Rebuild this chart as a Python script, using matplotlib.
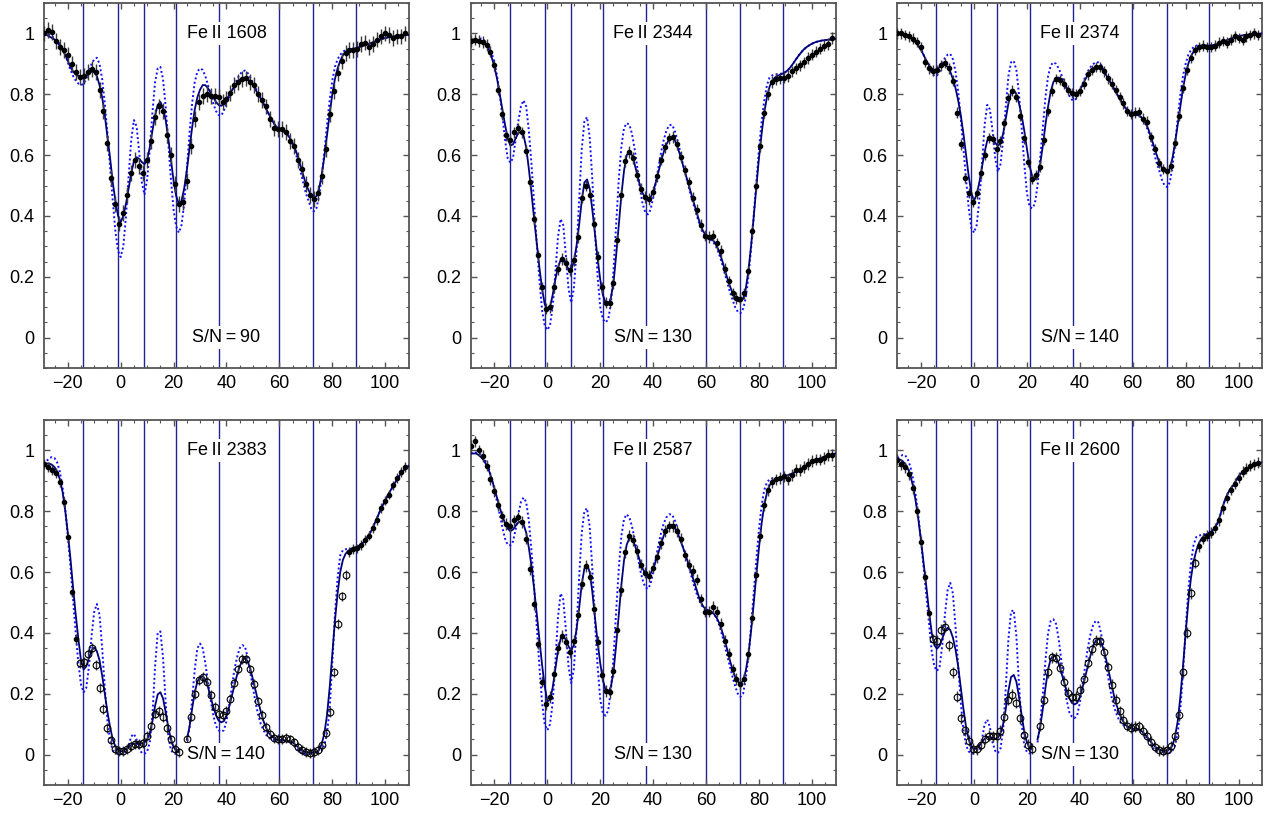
import numpy as np
import matplotlib
matplotlib.use("Agg")
import matplotlib.pyplot as plt
from matplotlib.ticker import MultipleLocator, FuncFormatter

plt.rcParams['font.family'] = ['Liberation Sans', 'DejaVu Sans']

# velocity grids (km/s)
vel_model = np.arange(-29, 110, 1.0)
vel_data = np.arange(-29, 108, 1.5)

# component positions (vertical lines)
comp_vel = [-14.2, -1.0, 8.8, 21.1, 37.3, 59.8, 72.8, 89.0]

lines = ["Fe\u2009II 1608", "Fe\u2009II 2344", "Fe\u2009II 2374",
         "Fe\u2009II 2383", "Fe\u2009II 2587", "Fe\u2009II 2600"]
snr = [90, 130, 140, 140, 130, 130]
err_bar = [0.026, 0.019, 0.017, 0.016, 0.019, 0.018]
# velocity range drawn with open circles (None = all filled)
open_range = [None, None, None, (-16.5, 85.5), None, (-16.5, 84.2)]

nan = np.nan

# ---------------- Fe II 1608 ----------------
flux_1608 = [
    1.0, 1.01, 1.005, 0.975, 0.955, 0.945, 0.93, 0.9, 0.872, 0.858,
    0.86, 0.872, 0.882, 0.872, 0.815, 0.745, 0.64, 0.525, 0.44, 0.375,
    0.41, 0.47, 0.54, 0.585, 0.565, 0.54, 0.585, 0.645, 0.725, 0.76,
    0.745, 0.665, 0.6, 0.505, 0.44, 0.445, 0.515, 0.63, 0.72, 0.775,
    0.795, 0.80, 0.795, 0.795, 0.79, 0.775, 0.785, 0.805, 0.83, 0.84,
    0.85, 0.852, 0.84, 0.83, 0.80, 0.78, 0.76, 0.72, 0.69, 0.685,
    0.685, 0.675, 0.645, 0.63, 0.585, 0.555, 0.505, 0.47, 0.455, 0.475,
    0.53, 0.62, 0.735, 0.81, 0.87, 0.91, 0.935, 0.945, 0.945, 0.95,
    0.965, 0.97, 0.955, 0.965, 0.98, 0.99, 1.0, 0.995, 0.985, 0.99,
    0.99, 1.0]
model_1608 = [
    1.00, 0.995, 0.99, 0.985, 0.98, 0.97, 0.96, 0.945, 0.93, 0.91,
    0.89, 0.875, 0.865, 0.86, 0.855, 0.855, 0.86, 0.868, 0.875, 0.872,
    0.86, 0.83, 0.79, 0.73, 0.66, 0.59, 0.51, 0.45, 0.40, 0.38,
    0.40, 0.44, 0.49, 0.54, 0.58, 0.593, 0.588, 0.577, 0.57, 0.585,
    0.625, 0.68, 0.73, 0.765, 0.775, 0.755, 0.715, 0.655, 0.585, 0.515,
    0.465, 0.44, 0.45, 0.49, 0.55, 0.62, 0.69, 0.75, 0.79, 0.815,
    0.83, 0.83, 0.82, 0.805, 0.79, 0.775, 0.765, 0.762, 0.768, 0.782,
    0.797, 0.812, 0.826, 0.838, 0.848, 0.854, 0.855, 0.85, 0.842, 0.83,
    0.815, 0.80, 0.785, 0.77, 0.752, 0.735, 0.718, 0.703, 0.692, 0.685,
    0.68, 0.675, 0.668, 0.655, 0.64, 0.62, 0.595, 0.565, 0.535, 0.505,
    0.485, 0.468, 0.46, 0.465, 0.49, 0.535, 0.595, 0.665, 0.735, 0.80,
    0.85, 0.885, 0.91, 0.928, 0.94, 0.945, 0.948, 0.95, 0.952, 0.955,
    0.957, 0.96, 0.963, 0.966, 0.97, 0.973, 0.976, 0.979, 0.982, 0.985,
    0.987, 0.989, 0.99, 0.991, 0.992, 0.993, 0.994, 0.995, 0.995]
hires_1608 = [
    1.00, 0.995, 0.995, 0.99, 0.985, 0.975, 0.965, 0.95, 0.93, 0.905,
    0.88, 0.86, 0.845, 0.835, 0.83, 0.835, 0.85, 0.875, 0.90, 0.915,
    0.92, 0.90, 0.85, 0.77, 0.67, 0.56, 0.45, 0.35, 0.285, 0.265,
    0.30, 0.40, 0.53, 0.65, 0.715, 0.695, 0.61, 0.51, 0.47, 0.52,
    0.62, 0.74, 0.84, 0.885, 0.89, 0.85, 0.76, 0.64, 0.52, 0.42,
    0.365, 0.345, 0.37, 0.44, 0.55, 0.67, 0.77, 0.84, 0.875, 0.885,
    0.88, 0.86, 0.83, 0.80, 0.77, 0.745, 0.732, 0.73, 0.745, 0.77,
    0.79, 0.81, 0.83, 0.85, 0.865, 0.875, 0.878, 0.87, 0.855, 0.838,
    0.82, 0.803, 0.787, 0.77, 0.752, 0.735, 0.718, 0.703, 0.692, 0.686,
    0.682, 0.678, 0.67, 0.655, 0.635, 0.61, 0.58, 0.545, 0.51, 0.475,
    0.45, 0.425, 0.415, 0.425, 0.465, 0.53, 0.61, 0.70, 0.78, 0.845,
    0.89, 0.915, 0.93, 0.94, 0.945, 0.947, 0.949, 0.95, 0.952, 0.955,
    0.957, 0.96, 0.963, 0.966, 0.97, 0.973, 0.976, 0.979, 0.982, 0.985,
    0.987, 0.989, 0.99, 0.991, 0.992, 0.993, 0.994, 0.995, 0.995]

# ---------------- Fe II 2344 ----------------
flux_2344 = [
    0.975, 0.98, 0.975, 0.972, 0.962, 0.94, 0.895, 0.815, 0.735, 0.665,
    0.648, 0.675, 0.688, 0.675, 0.615, 0.51, 0.39, 0.27, 0.165, 0.095,
    0.10, 0.165, 0.225, 0.258, 0.245, 0.222, 0.255, 0.33, 0.46, 0.50,
    0.47, 0.375, 0.265, 0.165, 0.115, 0.115, 0.18, 0.32, 0.47, 0.58,
    0.61, 0.59, 0.535, 0.49, 0.462, 0.455, 0.48, 0.53, 0.585, 0.625,
    0.655, 0.66, 0.635, 0.595, 0.55, 0.51, 0.46, 0.42, 0.37, 0.335,
    0.33, 0.335, 0.31, 0.285, 0.225, 0.185, 0.145, 0.13, 0.128, 0.145,
    0.22, 0.35, 0.50, 0.63, 0.74, 0.80, 0.84, 0.85, 0.852, 0.855,
    0.86, 0.875, 0.885, 0.895, 0.905, 0.92, 0.93, 0.94, 0.95, 0.96,
    0.965, 0.985]
model_2344 = [
    0.98, 0.98, 0.98, 0.978, 0.975, 0.97, 0.96, 0.945, 0.92, 0.89,
    0.85, 0.80, 0.75, 0.70, 0.655, 0.632, 0.635, 0.655, 0.672, 0.677,
    0.665, 0.625, 0.555, 0.475, 0.39, 0.31, 0.23, 0.16, 0.11, 0.09,
    0.10, 0.14, 0.19, 0.23, 0.255, 0.255, 0.24, 0.226, 0.222, 0.25,
    0.30, 0.37, 0.45, 0.51, 0.52, 0.49, 0.42, 0.34, 0.26, 0.19,
    0.14, 0.115, 0.11, 0.13, 0.18, 0.27, 0.37, 0.47, 0.55, 0.60,
    0.61, 0.60, 0.57, 0.535, 0.50, 0.475, 0.46, 0.455, 0.46, 0.48,
    0.51, 0.545, 0.58, 0.61, 0.635, 0.652, 0.66, 0.652, 0.632, 0.605,
    0.575, 0.545, 0.515, 0.485, 0.455, 0.425, 0.395, 0.368, 0.348, 0.336,
    0.33, 0.325, 0.316, 0.302, 0.282, 0.256, 0.226, 0.196, 0.17, 0.147,
    0.13, 0.12, 0.118, 0.128, 0.16, 0.22, 0.30, 0.395, 0.495, 0.59,
    0.67, 0.74, 0.79, 0.825, 0.845, 0.855, 0.86, 0.865, 0.868, 0.873,
    0.88, 0.89, 0.902, 0.915, 0.927, 0.938, 0.948, 0.955, 0.961, 0.966,
    0.97, 0.973, 0.975, 0.977, 0.978, 0.979, 0.98, 0.981, 0.982]
hires_2344 = [
    0.98, 0.98, 0.982, 0.984, 0.983, 0.978, 0.97, 0.955, 0.935, 0.905,
    0.86, 0.80, 0.73, 0.65, 0.59, 0.575, 0.59, 0.65, 0.71, 0.76,
    0.78, 0.76, 0.68, 0.57, 0.44, 0.31, 0.19, 0.09, 0.04, 0.025,
    0.04, 0.10, 0.21, 0.33, 0.39, 0.37, 0.27, 0.16, 0.115, 0.16,
    0.28, 0.45, 0.62, 0.71, 0.725, 0.66, 0.52, 0.35, 0.20, 0.10,
    0.06, 0.05, 0.06, 0.11, 0.22, 0.37, 0.52, 0.63, 0.69, 0.705,
    0.70, 0.67, 0.62, 0.56, 0.49, 0.44, 0.412, 0.405, 0.42, 0.46,
    0.51, 0.56, 0.61, 0.65, 0.68, 0.698, 0.70, 0.685, 0.655, 0.62,
    0.58, 0.545, 0.51, 0.475, 0.445, 0.415, 0.386, 0.36, 0.342, 0.33,
    0.325, 0.32, 0.31, 0.295, 0.272, 0.245, 0.213, 0.18, 0.15, 0.125,
    0.10, 0.085, 0.08, 0.095, 0.13, 0.20, 0.29, 0.40, 0.51, 0.62,
    0.71, 0.78, 0.83, 0.855, 0.862, 0.865, 0.866, 0.867, 0.869, 0.873,
    0.88, 0.89, 0.902, 0.915, 0.927, 0.938, 0.948, 0.955, 0.961, 0.966,
    0.97, 0.973, 0.975, 0.977, 0.978, 0.979, 0.98, 0.981, 0.982]

# ---------------- Fe II 2374 ----------------
flux_2374 = [
    1.0, 1.0, 0.995, 0.99, 0.983, 0.972, 0.955, 0.905, 0.885, 0.878,
    0.88, 0.895, 0.902, 0.885, 0.845, 0.74, 0.635, 0.525, 0.475, 0.445,
    0.474, 0.54, 0.6, 0.657, 0.652, 0.62, 0.645, 0.705, 0.787, 0.812,
    0.79, 0.73, 0.655, 0.578, 0.522, 0.535, 0.562, 0.65, 0.745, 0.81,
    0.85, 0.847, 0.835, 0.815, 0.805, 0.80, 0.81, 0.835, 0.865, 0.88,
    0.89, 0.89, 0.875, 0.852, 0.835, 0.815, 0.79, 0.77, 0.745, 0.735,
    0.74, 0.742, 0.72, 0.71, 0.66, 0.62, 0.575, 0.555, 0.548, 0.565,
    0.64, 0.73, 0.82, 0.88, 0.92, 0.945, 0.955, 0.96, 0.955, 0.955,
    0.96, 0.97, 0.975, 0.97, 0.98, 0.99, 0.985, 0.98, 0.99, 0.995,
    1.0, 0.995]
model_2374 = [
    1.0, 0.998, 0.996, 0.993, 0.99, 0.985, 0.978, 0.97, 0.958, 0.945,
    0.928, 0.91, 0.895, 0.885, 0.88, 0.882, 0.89, 0.896, 0.897, 0.89,
    0.875, 0.85, 0.82, 0.78, 0.73, 0.67, 0.60, 0.53, 0.475, 0.45,
    0.47, 0.51, 0.56, 0.61, 0.648, 0.662, 0.655, 0.64, 0.63, 0.64,
    0.67, 0.72, 0.77, 0.805, 0.815, 0.80, 0.77, 0.73, 0.68, 0.62,
    0.565, 0.53, 0.52, 0.53, 0.57, 0.63, 0.70, 0.76, 0.81, 0.84,
    0.853, 0.855, 0.85, 0.837, 0.822, 0.81, 0.802, 0.80, 0.804, 0.814,
    0.83, 0.848, 0.864, 0.876, 0.885, 0.89, 0.891, 0.886, 0.876, 0.862,
    0.847, 0.832, 0.817, 0.802, 0.787, 0.772, 0.758, 0.747, 0.74, 0.736,
    0.734, 0.731, 0.726, 0.717, 0.703, 0.683, 0.657, 0.63, 0.602, 0.577,
    0.558, 0.547, 0.545, 0.555, 0.59, 0.64, 0.70, 0.76, 0.82, 0.865,
    0.90, 0.925, 0.94, 0.95, 0.955, 0.958, 0.96, 0.96, 0.96, 0.961,
    0.963, 0.965, 0.968, 0.971, 0.975, 0.979, 0.983, 0.986, 0.989, 0.991,
    0.993, 0.994, 0.995, 0.996, 0.997, 0.998, 0.998, 0.999, 1.0]
hires_2374 = [
    1.0, 0.998, 0.997, 0.995, 0.992, 0.988, 0.982, 0.974, 0.962, 0.948,
    0.928, 0.905, 0.885, 0.87, 0.86, 0.862, 0.875, 0.90, 0.92, 0.93,
    0.933, 0.915, 0.875, 0.81, 0.72, 0.62, 0.52, 0.425, 0.36, 0.345,
    0.37, 0.45, 0.57, 0.70, 0.765, 0.75, 0.68, 0.59, 0.545, 0.57,
    0.65, 0.76, 0.86, 0.905, 0.91, 0.88, 0.80, 0.69, 0.57, 0.475,
    0.43, 0.425, 0.44, 0.50, 0.59, 0.69, 0.79, 0.86, 0.895, 0.905,
    0.90, 0.885, 0.865, 0.84, 0.815, 0.795, 0.782, 0.78, 0.79, 0.81,
    0.835, 0.856, 0.874, 0.889, 0.899, 0.905, 0.905, 0.897, 0.883, 0.866,
    0.849, 0.833, 0.817, 0.802, 0.787, 0.772, 0.758, 0.747, 0.74, 0.737,
    0.735, 0.732, 0.726, 0.715, 0.698, 0.675, 0.645, 0.61, 0.575, 0.55,
    0.52, 0.50, 0.495, 0.51, 0.56, 0.64, 0.72, 0.80, 0.86, 0.90,
    0.93, 0.945, 0.955, 0.96, 0.96, 0.96, 0.96, 0.96, 0.96, 0.961,
    0.963, 0.965, 0.968, 0.971, 0.975, 0.979, 0.983, 0.986, 0.989, 0.991,
    0.993, 0.994, 0.995, 0.996, 0.997, 0.998, 0.998, 0.999, 1.0]

# ---------------- Fe II 2383 ----------------
flux_2383 = [
    0.955, 0.945, 0.935, 0.925, 0.895, 0.83, 0.715, 0.535, 0.38, 0.30,
    0.305, 0.33, 0.35, 0.295, 0.22, 0.15, 0.088, 0.048, 0.019, 0.012,
    0.012, 0.018, 0.028, 0.034, 0.035, 0.038, 0.06, 0.095, 0.135, 0.143,
    0.123, 0.088, 0.05, 0.02, 0.007, nan, 0.05, 0.125, 0.2, 0.245,
    0.255, 0.24, 0.195, 0.158, 0.135, 0.13, 0.145, 0.183, 0.235, 0.28,
    0.315, 0.315, 0.28, 0.232, 0.175, 0.13, 0.09, 0.068, 0.055, 0.051,
    0.052, 0.055, 0.05, 0.04, 0.025, 0.015, 0.008, 0.006, 0.008, 0.014,
    0.03, 0.07, 0.14, 0.27, 0.43, 0.52, 0.59, 0.665, 0.675, 0.678,
    0.69, 0.705, 0.72, 0.745, 0.77, 0.81, 0.835, 0.855, 0.885, 0.91,
    0.93, 0.945]
model_2383 = [
    0.955, 0.957, 0.957, 0.953, 0.945, 0.93, 0.905, 0.865, 0.805, 0.73,
    0.645, 0.55, 0.46, 0.38, 0.31, 0.28, 0.29, 0.318, 0.343, 0.352,
    0.34, 0.31, 0.26, 0.20, 0.14, 0.09, 0.05, 0.026, 0.015, 0.011,
    0.012, 0.018, 0.025, 0.032, 0.036, 0.038, 0.037, 0.036, 0.04, 0.05,
    0.07, 0.11, 0.16, 0.198, 0.205, 0.185, 0.14, 0.09, 0.05, 0.025,
    0.012, 0.008, nan, nan, 0.05, 0.09, 0.15, 0.205, 0.24, 0.255,
    0.258, 0.247, 0.222, 0.19, 0.157, 0.13, 0.112, 0.106, 0.11, 0.128,
    0.157, 0.192, 0.228, 0.262, 0.29, 0.31, 0.317, 0.307, 0.282, 0.247,
    0.21, 0.174, 0.14, 0.11, 0.087, 0.071, 0.061, 0.054, 0.05, 0.048,
    0.048, 0.047, 0.045, 0.044, 0.04, 0.033, 0.025, 0.017, 0.012, 0.008,
    0.006, 0.006, 0.006, 0.008, 0.015, 0.035, 0.07, 0.13, 0.22, 0.33,
    0.44, 0.53, 0.60, 0.64, 0.66, 0.67, 0.675, 0.68, 0.682, 0.685,
    0.692, 0.70, 0.712, 0.725, 0.74, 0.76, 0.78, 0.80, 0.818, 0.835,
    0.852, 0.868, 0.883, 0.898, 0.912, 0.925, 0.935, 0.943, 0.95]
hires_2383 = [
    0.955, 0.965, 0.975, 0.978, 0.975, 0.96, 0.93, 0.88, 0.81, 0.72,
    0.62, 0.51, 0.40, 0.30, 0.23, 0.205, 0.22, 0.29, 0.39, 0.47,
    0.495, 0.46, 0.35, 0.22, 0.11, 0.045, 0.015, 0.005, 0.002, 0.002,
    0.005, 0.012, 0.03, 0.06, 0.068, 0.05, 0.02, 0.005, 0.003, 0.01,
    0.04, 0.13, 0.29, 0.40, 0.405, 0.32, 0.17, 0.06, 0.015, 0.004,
    0.002, 0.002, nan, nan, 0.03, 0.09, 0.18, 0.28, 0.35, 0.365,
    0.35, 0.30, 0.24, 0.18, 0.13, 0.095, 0.08, 0.075, 0.08, 0.11,
    0.16, 0.22, 0.28, 0.32, 0.35, 0.36, 0.355, 0.32, 0.27, 0.22,
    0.17, 0.13, 0.10, 0.08, 0.065, 0.055, 0.05, 0.048, 0.047, 0.046,
    0.046, 0.045, 0.043, 0.04, 0.033, 0.025, 0.015, 0.008, 0.004, 0.002,
    0.002, 0.002, 0.002, 0.002, 0.005, 0.012, 0.03, 0.07, 0.15, 0.30,
    0.46, 0.58, 0.655, 0.672, 0.675, 0.676, 0.677, 0.68, 0.682, 0.685,
    0.692, 0.70, 0.712, 0.725, 0.74, 0.76, 0.78, 0.80, 0.818, 0.835,
    0.852, 0.868, 0.883, 0.898, 0.912, 0.925, 0.935, 0.943, 0.95]

# ---------------- Fe II 2587 ----------------
flux_2587 = [
    1.015, 1.03, 1.0, 0.982, 0.95, 0.905, 0.867, 0.82, 0.783, 0.758,
    0.752, 0.77, 0.78, 0.765, 0.71, 0.61, 0.496, 0.365, 0.24, 0.167,
    0.19, 0.265, 0.35, 0.39, 0.37, 0.336, 0.375, 0.46, 0.562, 0.62,
    0.585, 0.48, 0.37, 0.262, 0.21, 0.205, 0.275, 0.41, 0.54, 0.665,
    0.72, 0.705, 0.67, 0.625, 0.598, 0.588, 0.615, 0.65, 0.695, 0.735,
    0.75, 0.752, 0.735, 0.71, 0.655, 0.625, 0.605, 0.575, 0.51, 0.47,
    0.47, 0.485, 0.47, 0.43, 0.375, 0.33, 0.28, 0.248, 0.232, 0.25,
    0.33, 0.45, 0.59, 0.72, 0.82, 0.87, 0.895, 0.905, 0.91, 0.915,
    0.905, 0.92, 0.935, 0.935, 0.945, 0.955, 0.965, 0.97, 0.97, 0.975,
    0.985, 0.985]
model_2587 = [
    0.99, 0.99, 0.99, 0.985, 0.977, 0.967, 0.952, 0.932, 0.905, 0.875,
    0.843, 0.812, 0.785, 0.76, 0.743, 0.735, 0.74, 0.752, 0.763, 0.767,
    0.757, 0.73, 0.68, 0.62, 0.545, 0.462, 0.38, 0.295, 0.225, 0.175,
    0.18, 0.22, 0.28, 0.34, 0.38, 0.39, 0.377, 0.356, 0.342, 0.36,
    0.41, 0.48, 0.56, 0.612, 0.625, 0.60, 0.535, 0.45, 0.37, 0.30,
    0.245, 0.212, 0.205, 0.222, 0.272, 0.36, 0.46, 0.56, 0.64, 0.69,
    0.712, 0.71, 0.69, 0.665, 0.637, 0.612, 0.596, 0.59, 0.595, 0.613,
    0.637, 0.664, 0.693, 0.72, 0.74, 0.752, 0.756, 0.748, 0.732, 0.712,
    0.688, 0.663, 0.637, 0.61, 0.582, 0.553, 0.526, 0.502, 0.486, 0.477,
    0.474, 0.47, 0.462, 0.45, 0.432, 0.407, 0.378, 0.345, 0.31, 0.28,
    0.256, 0.24, 0.234, 0.243, 0.275, 0.328, 0.405, 0.495, 0.59, 0.68,
    0.76, 0.82, 0.86, 0.885, 0.898, 0.904, 0.907, 0.91, 0.913, 0.916,
    0.919, 0.922, 0.926, 0.93, 0.935, 0.94, 0.946, 0.952, 0.958, 0.963,
    0.967, 0.971, 0.974, 0.977, 0.98, 0.983, 0.986, 0.988, 0.99]
hires_2587 = [
    0.99, 0.992, 0.993, 0.992, 0.985, 0.975, 0.96, 0.937, 0.905, 0.87,
    0.83, 0.79, 0.747, 0.71, 0.69, 0.688, 0.70, 0.74, 0.79, 0.83,
    0.845, 0.83, 0.77, 0.67, 0.55, 0.42, 0.29, 0.17, 0.10, 0.08,
    0.10, 0.17, 0.30, 0.45, 0.53, 0.51, 0.41, 0.29, 0.235, 0.28,
    0.41, 0.58, 0.73, 0.80, 0.81, 0.75, 0.61, 0.44, 0.29, 0.18,
    0.135, 0.128, 0.145, 0.21, 0.32, 0.47, 0.61, 0.72, 0.775, 0.79,
    0.78, 0.75, 0.71, 0.66, 0.61, 0.575, 0.55, 0.545, 0.56, 0.60,
    0.645, 0.69, 0.73, 0.76, 0.78, 0.79, 0.79, 0.775, 0.75, 0.72,
    0.69, 0.66, 0.63, 0.60, 0.57, 0.54, 0.515, 0.495, 0.482, 0.475,
    0.473, 0.47, 0.462, 0.448, 0.425, 0.395, 0.36, 0.325, 0.29, 0.255,
    0.225, 0.20, 0.19, 0.20, 0.25, 0.32, 0.42, 0.53, 0.64, 0.74,
    0.82, 0.87, 0.895, 0.905, 0.908, 0.909, 0.91, 0.912, 0.914, 0.916,
    0.919, 0.922, 0.926, 0.93, 0.935, 0.94, 0.946, 0.952, 0.958, 0.963,
    0.967, 0.971, 0.974, 0.977, 0.98, 0.983, 0.986, 0.988, 0.99]

# ---------------- Fe II 2600 ----------------
flux_2600 = [
    0.97, 0.955, 0.945, 0.922, 0.875, 0.80, 0.70, 0.585, 0.465, 0.38,
    0.375, 0.41, 0.42, 0.36, 0.27, 0.19, 0.12, 0.08, 0.045, 0.02,
    0.018, 0.032, 0.052, 0.062, 0.06, 0.06, 0.078, 0.125, 0.18, 0.197,
    0.17, 0.12, 0.065, 0.032, 0.02, nan, 0.095, 0.18, 0.27, 0.32,
    0.318, 0.285, 0.24, 0.203, 0.188, 0.19, 0.213, 0.25, 0.302, 0.347,
    0.375, 0.372, 0.337, 0.287, 0.23, 0.18, 0.143, 0.115, 0.095, 0.089,
    0.091, 0.093, 0.079, 0.062, 0.042, 0.025, 0.015, 0.013, 0.015, 0.028,
    0.06, 0.13, 0.27, 0.40, 0.53, 0.63, 0.685, 0.71, 0.72, 0.73,
    0.745, 0.77, 0.81, 0.845, 0.87, 0.89, 0.91, 0.93, 0.94, 0.95,
    0.955, 0.96]
model_2600 = [
    0.972, 0.97, 0.965, 0.955, 0.94, 0.915, 0.88, 0.83, 0.77, 0.70,
    0.625, 0.55, 0.47, 0.40, 0.36, 0.348, 0.358, 0.382, 0.405, 0.417,
    0.41, 0.385, 0.345, 0.29, 0.22, 0.15, 0.09, 0.05, 0.025, 0.018,
    0.02, 0.03, 0.042, 0.052, 0.058, 0.058, 0.055, 0.052, 0.055, 0.07,
    0.10, 0.15, 0.21, 0.255, 0.262, 0.24, 0.19, 0.13, 0.075, 0.04,
    0.022, 0.018, nan, 0.05, 0.09, 0.15, 0.22, 0.28, 0.315, 0.326,
    0.32, 0.30, 0.27, 0.24, 0.21, 0.186, 0.17, 0.165, 0.17, 0.19,
    0.22, 0.255, 0.29, 0.325, 0.355, 0.375, 0.382, 0.37, 0.345, 0.31,
    0.27, 0.23, 0.19, 0.16, 0.135, 0.115, 0.10, 0.092, 0.088, 0.085,
    0.085, 0.083, 0.08, 0.072, 0.063, 0.052, 0.04, 0.03, 0.022, 0.016,
    0.013, 0.012, 0.013, 0.018, 0.03, 0.06, 0.11, 0.19, 0.29, 0.40,
    0.50, 0.58, 0.635, 0.67, 0.695, 0.71, 0.72, 0.725, 0.73, 0.735,
    0.745, 0.76, 0.785, 0.815, 0.84, 0.86, 0.875, 0.885, 0.90, 0.915,
    0.925, 0.935, 0.94, 0.945, 0.95, 0.955, 0.958, 0.96, 0.96]
hires_2600 = [
    0.975, 0.98, 0.985, 0.984, 0.97, 0.945, 0.905, 0.85, 0.78, 0.70,
    0.61, 0.52, 0.43, 0.34, 0.29, 0.275, 0.29, 0.36, 0.46, 0.54,
    0.565, 0.53, 0.42, 0.29, 0.17, 0.08, 0.03, 0.01, 0.004, 0.003,
    0.006, 0.015, 0.05, 0.10, 0.115, 0.09, 0.04, 0.012, 0.005, 0.02,
    0.08, 0.22, 0.38, 0.47, 0.475, 0.39, 0.23, 0.10, 0.03, 0.008,
    0.004, 0.004, nan, 0.04, 0.10, 0.20, 0.31, 0.40, 0.44, 0.445,
    0.43, 0.38, 0.31, 0.24, 0.18, 0.14, 0.125, 0.12, 0.13, 0.17,
    0.23, 0.29, 0.35, 0.395, 0.425, 0.44, 0.435, 0.40, 0.35, 0.29,
    0.24, 0.19, 0.155, 0.13, 0.11, 0.10, 0.093, 0.09, 0.088, 0.087,
    0.086, 0.084, 0.08, 0.07, 0.058, 0.045, 0.03, 0.018, 0.01, 0.006,
    0.004, 0.003, 0.004, 0.006, 0.012, 0.03, 0.07, 0.15, 0.27, 0.41,
    0.54, 0.63, 0.69, 0.715, 0.72, 0.722, 0.724, 0.726, 0.73, 0.735,
    0.745, 0.76, 0.785, 0.815, 0.84, 0.86, 0.875, 0.885, 0.90, 0.915,
    0.925, 0.935, 0.94, 0.945, 0.95, 0.955, 0.958, 0.96, 0.96]

fluxes = [flux_1608, flux_2344, flux_2374, flux_2383, flux_2587, flux_2600]
models = [model_1608, model_2344, model_2374, model_2383, model_2587, model_2600]
hires = [hires_1608, hires_2344, hires_2374, hires_2383, hires_2587, hires_2600]

line_col = "#23238f"
frame_col = "#555555"

fig = plt.figure(figsize=(12.71, 8.14), dpi=100)
lefts = [0.0346, 0.3703, 0.7060]
bottoms = [0.5479, 0.0356]
w, h = 0.2872, 0.4484

for i in range(6):
    ax = fig.add_axes([lefts[i % 3], bottoms[i // 3], w, h])
    fl = np.array(fluxes[i], dtype=float)
    mo = np.array(models[i], dtype=float)
    hr = np.array(hires[i], dtype=float)

    for v in comp_vel:
        ax.axvline(v, color=line_col, lw=1.0, zorder=1)

    ax.plot(vel_model, hr, ls=(0, (1, 1.3)), color="#1010ff", lw=1.4, zorder=3)
    ax.plot(vel_model, mo, color="#00007a", lw=1.3, zorder=4)

    ax.errorbar(vel_data, fl, yerr=err_bar[i], fmt="none", ecolor="#3a3a3a",
                elinewidth=1.0, zorder=5)
    if open_range[i] is None:
        op = np.zeros(len(vel_data), dtype=bool)
    else:
        op = (vel_data >= open_range[i][0]) & (vel_data <= open_range[i][1])
    ax.plot(vel_data[~op], fl[~op], "o", ms=3.0, color="black", zorder=6)
    ax.plot(vel_data[op], fl[op], "o", ms=4.8, mfc="none", mec="black",
            mew=0.8, zorder=6)

    box = dict(boxstyle="square,pad=0.15", fc="white", ec="none")
    ax.text(40, 1.0, lines[i], ha="center", va="center", fontsize=13,
            bbox=box, zorder=7)
    ax.text(40, 0.0, "S/N\u2009=\u2009%d" % snr[i], ha="center", va="center",
            fontsize=13, bbox=box, zorder=7)

    ax.set_xlim(-29, 109)
    ax.set_ylim(-0.1, 1.1)
    ax.xaxis.set_major_locator(MultipleLocator(20))
    ax.xaxis.set_minor_locator(MultipleLocator(5))
    ax.yaxis.set_major_locator(MultipleLocator(0.2))
    ax.yaxis.set_minor_locator(MultipleLocator(0.05))
    ax.yaxis.set_major_formatter(FuncFormatter(lambda y, p: "%g" % round(y, 2)))
    ax.tick_params(which="both", direction="in", top=True, right=True,
                   color=frame_col, labelsize=13)
    ax.tick_params(which="major", length=4.5, width=1.0)
    ax.tick_params(which="minor", length=2.5, width=0.8)
    ax.tick_params(axis="x", pad=5)
    ax.tick_params(axis="y", pad=7)
    for s in ax.spines.values():
        s.set_color(frame_col)
        s.set_linewidth(1.3)

plt.savefig("out.png", dpi=100)
